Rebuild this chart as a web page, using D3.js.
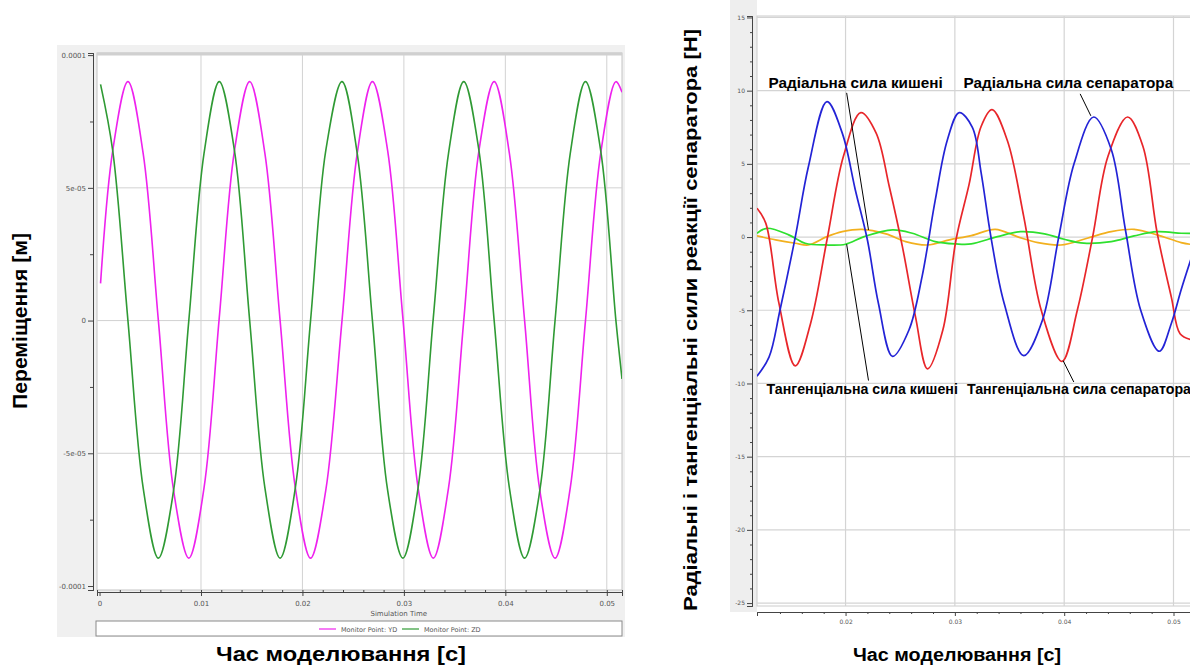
<!DOCTYPE html>
<html>
<head>
<meta charset="utf-8">
<script src="https://cdn.jsdelivr.net/npm/d3@7"></script>
<style>
body { margin: 0; background: #fff; }
svg { display: block; }
</style>
</head>
<body>
<div class="svg"></div>
<script>
// ---- left chart: displacement of the two monitor points ----
var leftTime = [0.0001, 0.0013, 0.0028, 0.0043, 0.0058, 0.0073, 0.0088, 0.0103, 0.0118, 0.0133,
    0.0148, 0.0163, 0.0178, 0.0193, 0.0208, 0.0223, 0.0239, 0.0254, 0.0269, 0.0284,
    0.0299, 0.0314, 0.0329, 0.0344, 0.0359, 0.0374, 0.0389, 0.0404, 0.0419, 0.0434,
    0.0449, 0.0464, 0.0479, 0.0494, 0.0509, 0.0515];
var ydValues = [1.4e-5, 6.4e-5, 9.0e-5, 6.3e-5, 0.0, -6.4e-5, -8.95e-5, -6.3e-5, 0.1e-5, 6.4e-5,
    9.0e-5, 6.3e-5, 0.0, -6.3e-5, -8.95e-5, -6.4e-5, 0.0, 6.3e-5, 9.0e-5, 6.4e-5,
    0.1e-5, -6.3e-5, -8.95e-5, -6.3e-5, 0.0, 6.4e-5, 9.0e-5, 6.3e-5, 0.0, -6.4e-5,
    -8.95e-5, -6.3e-5, 0.0, 6.3e-5, 9.0e-5, 8.6e-5];
var zdValues = [8.9e-5, 6.4e-5, 0.0, -6.3e-5, -8.95e-5, -6.4e-5, 0.0, 6.3e-5, 9.0e-5, 6.4e-5,
    0.0, -6.3e-5, -8.95e-5, -6.3e-5, 0.0, 6.4e-5, 9.0e-5, 6.3e-5, 0.0, -6.4e-5,
    -8.95e-5, -6.3e-5, 0.1e-5, 6.3e-5, 9.0e-5, 6.4e-5, 0.0, -6.3e-5, -8.95e-5, -6.4e-5,
    0.0, 6.3e-5, 9.0e-5, 6.4e-5, 0.0, -2.2e-5];
var leftSeriesNames = ["Monitor Point: YD", "Monitor Point: ZD"];
var leftXTicks = [0, 0.01, 0.02, 0.03, 0.04, 0.05];
var leftXTickLabels = ["0", "0.01", "0.02", "0.03", "0.04", "0.05"];
var leftYTicks = [-0.0001, -0.00005, 0, 0.00005, 0.0001];
var leftYTickLabels = ["-0.0001", "-5e-05", "0", "5e-05", "0.0001"];

// ---- right chart: forces on the separator ----
var blueTime = [0.0119, 0.0130, 0.0140, 0.0154, 0.0166, 0.0183, 0.0197, 0.0209, 0.0220, 0.0230,
    0.0243, 0.0258, 0.0270, 0.0282, 0.0293, 0.0304, 0.0316, 0.0324, 0.0333, 0.0345,
    0.0363, 0.0380, 0.0395, 0.0409, 0.0427, 0.0443, 0.0456, 0.0470, 0.0487, 0.0498,
    0.0507, 0.0516];
var blueForce = [-9.5, -8.2, -5.0, 0.0, 4.8, 9.25, 7.1, 3.2, -0.2, -4.5,
    -8.15, -6.35, -2.7, 2.5, 6.6, 8.5, 7.5, 4.4, 0.0, -4.5,
    -8.1, -5.7, 0.0, 5.0, 8.2, 6.0, 0.5, -5.0, -7.8, -5.9,
    -3.6, -1.5];
var redTime = [0.0119, 0.0127, 0.0139, 0.0154, 0.0168, 0.0183, 0.0198, 0.0214, 0.0228, 0.0240,
    0.0252, 0.0264, 0.0275, 0.0289, 0.0301, 0.0313, 0.0324, 0.0334, 0.0348, 0.0363,
    0.0379, 0.0398, 0.0412, 0.0426, 0.0440, 0.0458, 0.0472, 0.0485, 0.0498, 0.0506,
    0.0516];
var redForce = [1.97, 0.95, -4.5, -8.8, -5.9, -0.2, 5.5, 8.5, 7.1, 3.45,
    -0.65, -5.45, -9.0, -6.35, -0.2, 3.6, 7.55, 8.7, 6.6, 1.4,
    -5.0, -8.5, -5.0, 0.0, 5.5, 8.2, 6.2, 0.3, -4.1, -6.6,
    -7.0];
var greenTime = [0.0119, 0.0128, 0.0148, 0.0163, 0.0182, 0.0200, 0.0217, 0.0243, 0.0261, 0.0282,
    0.0301, 0.0315, 0.0339, 0.0360, 0.0382, 0.0400, 0.0418, 0.0443, 0.0464, 0.0485,
    0.0507, 0.0516];
var greenForce = [0.26, 0.6, 0.15, -0.42, -0.54, -0.49, 0.03, 0.49, 0.26, -0.31,
    -0.47, -0.47, 0.03, 0.37, 0.22, -0.15, -0.42, -0.31, 0.08, 0.37,
    0.26, 0.25];
var orangeTime = [0.0119, 0.0136, 0.0154, 0.0166, 0.0183, 0.0197, 0.0215, 0.0237, 0.0255, 0.0275,
    0.0295, 0.0315, 0.0337, 0.0357, 0.0376, 0.0397, 0.0421, 0.0443, 0.0464, 0.0485,
    0.0507, 0.0516];
var orangeForce = [0.08, -0.19, -0.42, -0.54, 0.03, 0.37, 0.53, 0.22, -0.31, -0.54,
    -0.19, 0.1, 0.53, 0.03, -0.38, -0.54, -0.08, 0.37, 0.53, 0.15,
    -0.38, -0.5];
var rightXTicks = [0.02, 0.03, 0.04, 0.05];
var rightXTickLabels = ["0.02", "0.03", "0.04", "0.05"];
var rightYTicks = [-25, -20, -15, -10, -5, 0, 5, 10, 15];
var rightYTickLabels = ["-25", "-20", "-15", "-10", "-5", "0", "5", "10", "15"];

// annotation labels (time / force where the text starts) and their pointer lines
var noteText = ["Радіальна сила кишені", "Радіальна сила сепаратора",
    "Тангенціальна сила кишені", "Тангенціальна сила сепаратора"];
var noteT = [0.01295, 0.0308, 0.01277, 0.0311];
var noteV = [10.2, 10.2, -10.75, -10.75];
var noteSize = [15.3, 15.3, 14.2, 14.2];
var pointerT1 = [0.0201, 0.04146, 0.0201, 0.0399];
var pointerV1 = [9.85, 9.78, -0.49, -8.44];
var pointerT2 = [0.0221, 0.04244, 0.0221, 0.04088];
var pointerV2 = [0.49, 8.28, -9.8, -9.9];

var svg = d3.select(".svg").append("svg").attr("width", 1190).attr("height", 667);
var tickFont = "DejaVu Sans, sans-serif";
var titleFont = "Liberation Sans, Arial, sans-serif";

// ================= LEFT CHART =================
var leftX = d3.scaleLinear().domain([-0.00025, 0.0515]).range([97, 622]);
var leftY = d3.scaleLinear().domain([-0.0001015, 0.0001008]).range([590, 53]);

svg.append("rect").attr("x", 57).attr("y", 45).attr("width", 568).attr("height", 592).attr("fill", "#f0f0f0");
svg.append("rect").attr("x", 97).attr("y", 53).attr("width", 525).attr("height", 537)
    .attr("fill", "#fff").attr("stroke", "#c4c4c4").attr("stroke-width", 1);
svg.append("line").attr("x1", 97).attr("x2", 622).attr("y1", 54).attr("y2", 54)
    .attr("stroke", "#d0d0d0").attr("stroke-width", 3);

// gridlines
svg.append("g").selectAll("line").data(leftXTicks.slice(1)).enter().append("line")
    .attr("x1", function(d) { return leftX(d); }).attr("x2", function(d) { return leftX(d); })
    .attr("y1", 55).attr("y2", 590).attr("stroke", "#d2d2d2").attr("stroke-width", 1);
svg.append("g").selectAll("line").data([-0.00005, 0, 0.00005]).enter().append("line")
    .attr("x1", 97).attr("x2", 622)
    .attr("y1", function(d) { return leftY(d); }).attr("y2", function(d) { return leftY(d); })
    .attr("stroke", "#d2d2d2").attr("stroke-width", 1);

svg.append("defs").append("clipPath").attr("id", "clipLeft").append("rect")
    .attr("x", 97).attr("y", 55).attr("width", 525).attr("height", 535);

var smoothLine = d3.line().curve(d3.curveCatmullRom.alpha(0.5));
function leftPoints(values) {
    return leftTime.map(function(t, i) { return [leftX(t), leftY(values[i])]; });
}
svg.append("path").attr("d", smoothLine(leftPoints(ydValues))).attr("clip-path", "url(#clipLeft)")
    .attr("fill", "none").attr("stroke", "#ee22ee").attr("stroke-width", 1.6);
svg.append("path").attr("d", smoothLine(leftPoints(zdValues))).attr("clip-path", "url(#clipLeft)")
    .attr("fill", "none").attr("stroke", "#2f9a34").attr("stroke-width", 1.6);

// y axis
var leftYAxis = svg.append("g").attr("transform", "translate(93,0)")
    .call(d3.axisLeft(leftY).tickValues(leftYTicks).tickSizeOuter(0).tickSize(5)
        .tickFormat(function(d, i) { return leftYTickLabels[i]; }));
svg.append("g").attr("transform", "translate(93,0)")
    .call(d3.axisLeft(leftY).tickValues([-0.000075, -0.000025, 0.000025, 0.000075]).tickSizeOuter(0).tickSize(3).tickFormat(""));
// x axis
var leftXAxis = svg.append("g").attr("transform", "translate(0,592)")
    .call(d3.axisBottom(leftX).tickValues(leftXTicks).tickSizeOuter(0).tickSize(4)
        .tickFormat(function(d, i) { return leftXTickLabels[i]; }));
svg.append("g").attr("transform", "translate(0,592)")
    .call(d3.axisTop(leftX).tickValues(d3.range(0.002, 0.0515, 0.002)).tickSizeOuter(0).tickSize(2).tickFormat(""));

svg.selectAll(".domain").attr("stroke", "#555");
svg.selectAll(".tick line").attr("stroke", "#555");
leftYAxis.selectAll("text").attr("font-family", tickFont).attr("font-size", "7px").attr("fill", "#555").attr("x", -7);
leftXAxis.selectAll("text").attr("font-family", tickFont).attr("font-size", "7px").attr("fill", "#555").attr("y", 9);

svg.append("text").attr("x", leftX(0.0295)).attr("y", 616).attr("text-anchor", "middle")
    .attr("font-family", tickFont).attr("font-size", "7px").attr("fill", "#555").text("Simulation Time");

// legend box
svg.append("rect").attr("x", 96).attr("y", 621).attr("width", 526).attr("height", 15)
    .attr("fill", "#fff").attr("stroke", "#8a8a8a").attr("stroke-width", 1);
var legendColors = ["#ee22ee", "#2f9a34"];
var legendX = [319, 402];
var legend = svg.append("g");
leftSeriesNames.forEach(function(name, i) {
    legend.append("line").attr("x1", legendX[i]).attr("x2", legendX[i] + 17).attr("y1", 629).attr("y2", 629)
        .attr("stroke", legendColors[i]).attr("stroke-width", 1.2);
    legend.append("text").attr("x", legendX[i] + 22).attr("y", 631.5)
        .attr("font-family", tickFont).attr("font-size", "6.5px").attr("fill", "#555").text(name);
});

// titles
svg.append("text").attr("x", 341).attr("y", 661).attr("text-anchor", "middle")
    .attr("font-family", titleFont).attr("font-weight", "bold").attr("font-size", "21px").attr("fill", "#000")
    .attr("textLength", 250).attr("lengthAdjust", "spacingAndGlyphs")
    .text("Час моделювання [c]");
svg.append("text").attr("transform", "translate(27,321) rotate(-90)").attr("text-anchor", "middle")
    .attr("font-family", titleFont).attr("font-weight", "bold").attr("font-size", "19.5px").attr("fill", "#000")
    .attr("textLength", 176).attr("lengthAdjust", "spacingAndGlyphs")
    .text("Переміщення [м]");

// ================= RIGHT CHART =================
var rightX = d3.scaleLinear().domain([0.0119, 0.0516]).range([757, 1191]);
var rightY = d3.scaleLinear().domain([-25.2, 15.1]).range([606, 16]);

svg.append("rect").attr("x", 730).attr("y", 0).attr("width", 27).attr("height", 612).attr("fill", "#eeeeee");
svg.append("rect").attr("x", 757).attr("y", 16).attr("width", 440).attr("height", 590)
    .attr("fill", "#fff").attr("stroke", "#cccccc").attr("stroke-width", 1);

svg.append("g").selectAll("line").data(rightXTicks).enter().append("line")
    .attr("x1", function(d) { return rightX(d); }).attr("x2", function(d) { return rightX(d); })
    .attr("y1", 16).attr("y2", 606).attr("stroke", "#d4d4d4").attr("stroke-width", 1.2);
svg.append("g").selectAll("line").data(rightYTicks).enter().append("line")
    .attr("x1", 757).attr("x2", 1190)
    .attr("y1", function(d) { return rightY(d); }).attr("y2", function(d) { return rightY(d); })
    .attr("stroke", "#d4d4d4").attr("stroke-width", 1.2);

svg.select("defs").append("clipPath").attr("id", "clipRight").append("rect")
    .attr("x", 757).attr("y", 16).attr("width", 440).attr("height", 590);

function rightPoints(times, values) {
    return times.map(function(t, i) { return [rightX(t), rightY(values[i])]; });
}
var rightSeries = [
    {t: orangeTime, v: orangeForce, color: "#f2b01e"},
    {t: greenTime, v: greenForce, color: "#2ee02e"},
    {t: redTime, v: redForce, color: "#e8262a"},
    {t: blueTime, v: blueForce, color: "#2323d6"}
];
rightSeries.forEach(function(s) {
    svg.append("path").attr("d", smoothLine(rightPoints(s.t, s.v))).attr("clip-path", "url(#clipRight)")
        .attr("fill", "none").attr("stroke", s.color).attr("stroke-width", 1.7);
});

// pointer lines and labels
noteText.forEach(function(txt, i) {
    svg.append("line").attr("x1", rightX(pointerT1[i])).attr("y1", rightY(pointerV1[i]))
        .attr("x2", rightX(pointerT2[i])).attr("y2", rightY(pointerV2[i]))
        .attr("stroke", "#000").attr("stroke-width", 1);
    svg.append("text").attr("x", rightX(noteT[i])).attr("y", rightY(noteV[i]))
        .attr("font-family", titleFont).attr("font-weight", "bold").attr("font-size", noteSize[i] + "px").attr("fill", "#000")
        .text(txt);
});

// y axis
var rightYAxis = svg.append("g").attr("transform", "translate(752,0)")
    .call(d3.axisLeft(rightY).tickValues(rightYTicks).tickSizeOuter(0).tickSize(5)
        .tickFormat(function(d, i) { return rightYTickLabels[i]; }));
svg.append("g").attr("transform", "translate(752,0)")
    .call(d3.axisLeft(rightY).tickValues(d3.range(-24, 15, 1).filter(function(d) { return d % 5 !== 0; }))
        .tickSizeOuter(0).tickSize(2).tickFormat(""));
// x axis
var rightXAxis = svg.append("g").attr("transform", "translate(0,612)")
    .call(d3.axisBottom(rightX).tickValues(rightXTicks).tickSizeOuter(0).tickSize(4)
        .tickFormat(function(d, i) { return rightXTickLabels[i]; }));
svg.append("g").attr("transform", "translate(0,612)")
    .call(d3.axisBottom(rightX).tickValues(d3.range(0.014, 0.0516, 0.002).filter(function(d) { return Math.abs(d * 100 - Math.round(d * 100)) > 0.01; }))
        .tickSizeOuter(0).tickSize(2).tickFormat(""));

svg.selectAll(".domain").attr("stroke", "#444");
svg.selectAll(".tick line").attr("stroke", "#444");
rightYAxis.selectAll("text").attr("font-family", tickFont).attr("font-size", "6px").attr("fill", "#555").attr("x", -7);
rightXAxis.selectAll("text").attr("font-family", tickFont).attr("font-size", "6px").attr("fill", "#555").attr("y", 8);

svg.append("text").attr("x", 957).attr("y", 661).attr("text-anchor", "middle")
    .attr("font-family", titleFont).attr("font-weight", "bold").attr("font-size", "17.5px").attr("fill", "#000")
    .attr("textLength", 208).attr("lengthAdjust", "spacingAndGlyphs")
    .text("Час моделювання [c]");
svg.append("text").attr("transform", "translate(697,320) rotate(-90)").attr("text-anchor", "middle")
    .attr("font-family", titleFont).attr("font-weight", "bold").attr("font-size", "17.5px").attr("fill", "#000")
    .attr("textLength", 582).attr("lengthAdjust", "spacingAndGlyphs")
    .text("Радіальні і тангенціальні сили реакції сепаратора [Н]");
</script>
</body>
</html>
